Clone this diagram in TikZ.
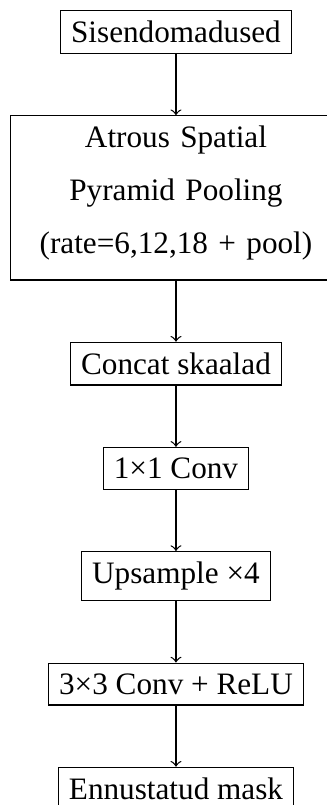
\documentclass[tikz,border=0pt]{standalone}
\usepackage{fontspec}
\setmainfont{Liberation Serif}
\usepackage{tikz}
\usetikzlibrary{calc}
\usetikzlibrary{arrows}
\usetikzlibrary{positioning}

\begin{document}
\begin{tikzpicture}[node distance=19.6pt,
    stage/.style={draw, align=center},
    flow/.style={->}]
            \useasboundingbox (-56.4pt, 3.2pt) rectangle (48.4pt,-254.8pt);
            \clip             (-56.4pt, 3.2pt) rectangle (48.4pt,-254.8pt);
            \node[stage, anchor=north]                      (input)  at (0,0) {Sisendomadused};
            \node[stage, below=of input, text width=3.5cm]  (aspp)   {Atrous Spatial\\[5pt] Pyramid Pooling\\[5pt] (rate=6,12,18 + pool)\rule[-5pt]{0pt}{1pt}};
            \node[stage, below=of aspp]                     (concat) {Concat skaalad};
            \node[stage, below=of concat]                   (conv)   {1×1 Conv};
            \node[stage, below=of conv]                     (upsamp) {Upsample ×4};
            \node[stage, below=of upsamp]                   (refine) {3×3 Conv + ReLU};
            \node[stage, below=of refine]                   (mask)   {Ennustatud mask};
            \draw[flow] (input)  -- (aspp);
            \draw[flow] (aspp)   -- (concat);
            \draw[flow] (concat) -- (conv);
            \draw[flow] (conv)   -- (upsamp);
            \draw[flow] (upsamp) -- (refine);
            \draw[flow] (refine) -- (mask);
        \end{tikzpicture}
\end{document}
